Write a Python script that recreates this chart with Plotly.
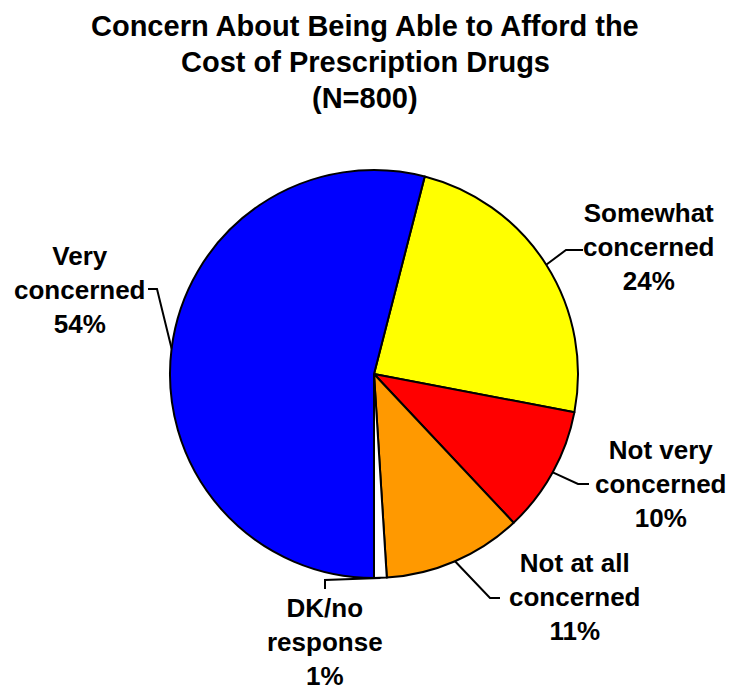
import math
import plotly.graph_objects as go

# Survey responses, listed clockwise starting just past 12 o'clock
categories = ["Somewhat concerned", "Not very concerned", "Not at all concerned",
              "DK/no response", "Very concerned"]
label_lines = [["Somewhat", "concerned"], ["Not very", "concerned"], ["Not at all", "concerned"],
               ["DK/no", "response"], ["Very", "concerned"]]
percents = [24, 10, 11, 1, 54]
colors = ["#FFFF00", "#FF0000", "#FF9900", "#FFFFFF", "#0000FF"]

W, H = 731, 693
CX, CY, R = 374, 374, 204          # pie centre and radius in pixels
ROTATION = 14.4                     # start angle, degrees clockwise from 12 o'clock

FONT = "Liberation Sans, Arial, sans-serif"

fig = go.Figure()

fig.add_trace(go.Pie(
    labels=categories,
    values=percents,
    sort=False,
    direction="clockwise",
    rotation=ROTATION,
    marker=dict(colors=colors, line=dict(color="black", width=2)),
    textinfo="none",
    hoverinfo="label+percent",
    showlegend=False,
    domain=dict(x=[(CX - R) / W, (CX + R) / W], y=[(H - CY - R) / H, (H - CY + R) / H]),
))

# label block centre (pixels) plus the elbow of each leader line
label_pos = [(649, 247), (661, 484), (575, 597), (325, 642), (80, 290)]
leader_knee = [[(583, 250), (566, 250)], [(589, 484), (578, 484)], [(500, 598), (490, 598)],
               [(325, 589), (325, 580)], [(148, 289), (157, 289)]]

total = sum(percents)
start = ROTATION
shapes = []
annotations = []
for lines, pct, (lx, ly), knee in zip(label_lines, percents, label_pos, leader_knee):
    span = 360 * pct / total
    mid = math.radians(start + span / 2)
    start += span
    ex, ey = CX + R * math.sin(mid), CY - R * math.cos(mid)
    pts = knee + [(ex, ey)]
    path = "M " + " L ".join(f"{x:.1f},{y:.1f}" for x, y in pts)
    shapes.append(dict(type="path", path=path, xref="x", yref="y",
                       line=dict(color="black", width=2)))
    text = "<b>" + "<br>".join(lines + [f"{pct}%"]) + "</b>"
    annotations.append(dict(x=lx, y=ly, xref="x", yref="y", text=text, showarrow=False,
                            xanchor="center", yanchor="middle", align="center",
                            font=dict(family=FONT, size=26, color="black")))

title_lines = ["Concern About Being Able to Afford the", "Cost of Prescription Drugs", "(N=800)"]
for i, t in enumerate(title_lines):
    annotations.append(dict(x=365, y=26 + 36 * i, xref="x", yref="y", text=f"<b>{t}</b>",
                            showarrow=False, xanchor="center", yanchor="middle",
                            font=dict(family=FONT, size=29, color="black")))

fig.update_layout(
    width=W, height=H,
    margin=dict(l=0, r=0, t=0, b=0),
    paper_bgcolor="white", plot_bgcolor="rgba(0,0,0,0)",
    xaxis=dict(range=[0, W], visible=False, fixedrange=True),
    yaxis=dict(range=[H, 0], visible=False, fixedrange=True),
    shapes=shapes,
    annotations=annotations,
)

fig.write_html("out.html")
